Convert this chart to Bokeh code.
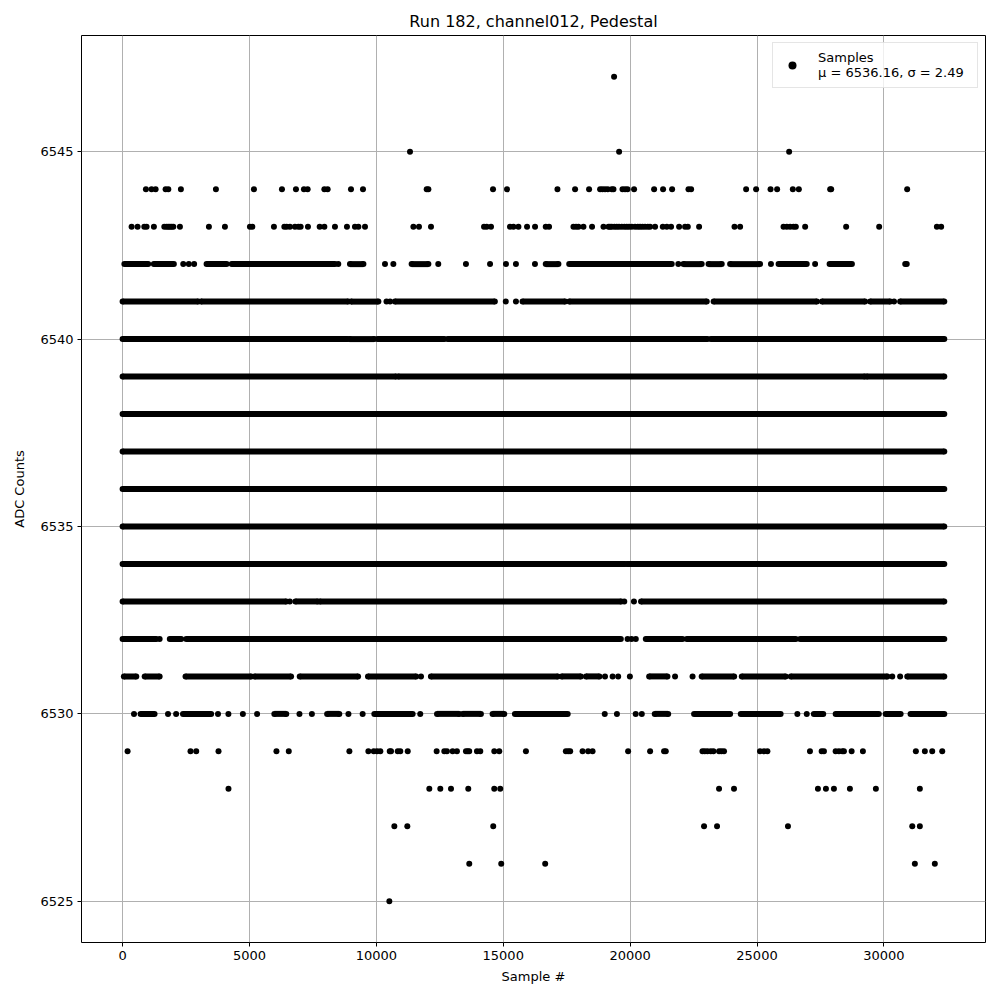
from bokeh.plotting import figure
from bokeh.models import Range1d, FixedTicker, Legend, LegendItem
from bokeh.embed import file_html
from bokeh.resources import INLINE

# ---- data: ADC level -> sample indices (single samples) or runs (start, end) of consecutive samples
TITLE = "Run 182, channel012, Pedestal"
X_LABEL = "Sample #"
Y_LABEL = "ADC Counts"
LEGEND_LABEL = "Samples\nμ = 6536.16, σ = 2.49"
x_ticks = [0, 5000, 10000, 15000, 20000, 25000, 30000]
y_ticks = [6525, 6530, 6535, 6540, 6545]
n_samples = 32380

# sparse levels: individual sample indices
pts_6547 = [19368]
pts_6545 = [11326, 19566, 26266]
pts_6544 = [919, 1143, 1301, 1695, 1801, 2298, 3678, 5176, 6280, 6832, 7147, 7292,
            7951, 8081, 9000, 9473, 11984, 12050, 14597, 15149,
            17136, 17831, 18383, 18817, 18911, 19013, 19119, 19277, 19344, 19699,
            19801, 19896, 20156, 20945, 21299, 21654, 22300, 22403, 24571, 24965,
            25533, 25793, 26412, 26648, 27883, 27923, 30917]
pts_6543 = [355, 591, 855, 946, 1234, 1644, 1734, 1801, 1865, 1932, 1999, 2259,
            3402, 4033, 5018, 5113, 5964, 6374, 6465, 6595, 6792, 6926, 7017, 7305,
            7766, 7951, 8369, 8842, 9157, 9291, 9552, 11459, 11680, 12153, 14243,
            14349, 14518, 15267, 15401, 15598, 15938, 16253,
            16675, 16805, 17767, 17869, 17964, 18161, 18500, 18950, 19147, 19210,
            19277, 19383, 19474, 19564, 19671, 19777, 19868, 19959, 20065, 20195,
            20301, 20392, 20487, 20589, 20696, 20786, 20984, 21287, 21445, 21614,
            21930, 22166, 22273, 22718, 24113, 24334, 26045, 26175, 26305, 26439,
            26530, 26897, 28513, 29814, 32088, 32257]
pts_6529 = [197, 2677, 2902, 3780, 6063, 6549, 8937, 9685, 9897, 10027, 10157, 10527,
            10578, 10842, 10944, 11236, 12376, 12677, 12781, 13006, 13175, 13531,
            13598, 13660, 13964, 14096, 14647, 14844, 15894,
            17468, 17559, 17638, 18126, 18346, 18520, 19921, 20787, 21338, 21405,
            22850, 22940, 23047, 23177, 23283, 23504, 23598, 23700, 25118, 25275,
            25409, 27087, 27547, 27638, 28099, 28229, 28362, 28425, 28729, 29173,
            31260, 31614, 31905, 32299]
pts_6528 = [4173, 12087, 12520, 12941, 13622, 14646, 14882,
            23504, 24094, 27401, 27716, 28031, 28661, 29684, 31417]
pts_6527 = [10709, 11220, 14606, 22913, 23425, 26220, 31118, 31417]
pts_6526 = [13661, 14921, 16653, 31220, 32007]
pts_6525 = [10512]

# dense levels: runs of samples (start, end)
runs_6542 = [(70, 1010), (1230, 2020), (2390, 2390), (2610, 2610), (2820, 2820),
             (3310, 4100), (4300, 8370), (8500, 8500), (8960, 9490), (10340, 10340),
             (10670, 10670), (11390, 12050), (12440, 12440), (13530, 13530),
             (14480, 14480), (15107, 15107), (15500, 15500), (16250, 16250),
             (16675, 17175), (17600, 21640), (21900, 21900), (22100, 22820),
             (23090, 23610), (23940, 25120), (25550, 25550), (25850, 26960),
             (27290, 27290), (27860, 28740), (30840, 30900)]
runs_6541 = [(0, 2980), (3090, 8890), (9000, 10080), (10400, 10400), (10540, 10540),
             (10730, 14670), (15100, 15100), (15500, 15500), (15760, 17440),
             (17600, 23020), (23290, 27360), (27560, 29260), (29460, 30250),
             (30400, 30400), (30640, 32380)]
runs_6540 = [(0, 8870), (8940, 9920), (10050, 12680), (12810, 23050), (23180, 32380)]
runs_6539 = [(0, 10780), (10860, 29250), (29320, 32380)]
runs_6538 = [(0, 32380)]
runs_6537 = [(0, 32380)]
runs_6536 = [(0, 32380)]
runs_6535 = [(0, 32380)]
runs_6534 = [(0, 19800), (19870, 32380)]
runs_6533 = [(0, 6450), (6590, 6590), (6810, 7690), (7770, 19650), (19770, 19770),
             (20150, 20150), (20430, 32380)]
runs_6532 = [(0, 1330), (1460, 1460), (1860, 2310), (2510, 19634), (19900, 19900),
             (20055, 20055), (20224, 20224), (20618, 22063), (22233, 26530),
             (26700, 32380)]
runs_6531 = [(50, 540), (870, 1460), (2480, 5070), (5200, 6640), (6980, 9280),
             (9670, 11570), (11760, 11760), (12150, 17150), (17300, 18060),
             (18260, 18790), (19010, 19010), (19310, 19310), (19530, 19530),
             (19990, 19990), (20750, 21470), (21770, 21770), (22460, 22460),
             (22820, 24100), (24400, 26130), (26330, 30140), (30330, 30330),
             (30640, 30640), (30920, 32380)]
runs_6530 = [(450, 450), (710, 1260), (1790, 1790), (2110, 2110), (2380, 3490),
             (3760, 3760), (4170, 4170), (4740, 4740), (5300, 5300), (5980, 6450),
             (6970, 6970), (7460, 7460), (8060, 8540), (8900, 8900), (9460, 9460),
             (9920, 11430), (11730, 11730), (12390, 13270), (13400, 14120),
             (14580, 15040), (15460, 17540), (19000, 19000), (19480, 19480),
             (20220, 20220), (20460, 20460), (20970, 21500), (22520, 23940),
             (24360, 25930), (26590, 26590), (26960, 26960), (27240, 27610),
             (28100, 29800), (30070, 30660), (31050, 32380)]

points = {6547: pts_6547, 6545: pts_6545, 6544: pts_6544, 6543: pts_6543,
          6529: pts_6529, 6528: pts_6528, 6527: pts_6527, 6526: pts_6526, 6525: pts_6525}
runs = {6542: runs_6542, 6541: runs_6541, 6540: runs_6540, 6539: runs_6539,
        6538: runs_6538, 6537: runs_6537, 6536: runs_6536, 6535: runs_6535,
        6534: runs_6534, 6533: runs_6533, 6532: runs_6532, 6531: runs_6531,
        6530: runs_6530}

# ---- assemble glyph data
px, py = [], []
for lvl, xs in points.items():
    for x in xs:
        px.append(x); py.append(lvl)
sx0, sx1, sy = [], [], []
for lvl, rr in runs.items():
    for a, b in rr:
        px.append(a); py.append(lvl)
        if b != a:
            px.append(b); py.append(lvl)
            sx0.append(a); sx1.append(b); sy.append(lvl)

FONT = "DejaVu Sans"
p = figure(width=992, height=992, output_backend="svg", toolbar_location=None,
           x_range=Range1d(-1619, 34004), y_range=Range1d(6523.9, 6548.1),
           min_border_left=81, min_border_right=7, min_border_top=35, min_border_bottom=50,
           title=TITLE)
p.title.align = "center"
p.title.text_font = FONT
p.title.text_font_size = "16px"
p.title.text_font_style = "normal"
p.title.text_color = "black"

p.outline_line_color = "black"
p.outline_line_width = 1
p.background_fill_color = "white"
p.border_fill_color = "white"

for ax in (p.xaxis[0], p.yaxis[0]):
    ax.major_label_text_font = FONT
    ax.major_label_text_font_size = "13px"
    ax.major_label_text_color = "black"
    ax.axis_label_text_font = FONT
    ax.axis_label_text_font_size = "13px"
    ax.axis_label_text_font_style = "normal"
    ax.axis_label_text_color = "black"
    ax.major_tick_out = 4
    ax.major_tick_in = 0
    ax.minor_tick_out = 0
    ax.minor_tick_in = 0
    ax.axis_line_color = None
    ax.major_tick_line_color = "black"
    ax.major_label_standoff = 4
p.xaxis.ticker = FixedTicker(ticks=x_ticks)
p.yaxis.ticker = FixedTicker(ticks=y_ticks)
p.xaxis.axis_label = X_LABEL
p.yaxis.axis_label = Y_LABEL
p.xaxis.axis_label_standoff = 6
p.yaxis.axis_label_standoff = 10

p.xgrid.grid_line_color = "#b0b0b0"
p.ygrid.grid_line_color = "#b0b0b0"
p.xgrid.grid_line_width = 1
p.ygrid.grid_line_width = 1

p.segment(x0=sx0, y0=sy, x1=sx1, y1=sy, line_color="black", line_width=6, line_cap="butt")
sc = p.scatter(x=px, y=py, marker="circle", size=6, fill_color="black", line_color=None)

legend = Legend(items=[LegendItem(label=LEGEND_LABEL, renderers=[sc])],
                location="top_right", margin=7, padding=7, spacing=0,
                label_text_font=FONT, label_text_font_size="13px",
                label_text_color="black", label_text_line_height=1.3,
                label_width=152,
                border_line_color="#cccccc", border_line_width=1,
                background_fill_color="white", background_fill_alpha=0.8,
                glyph_width=24, label_standoff=14)
p.add_layout(legend)

open("out.html", "w").write(file_html(p, INLINE))
